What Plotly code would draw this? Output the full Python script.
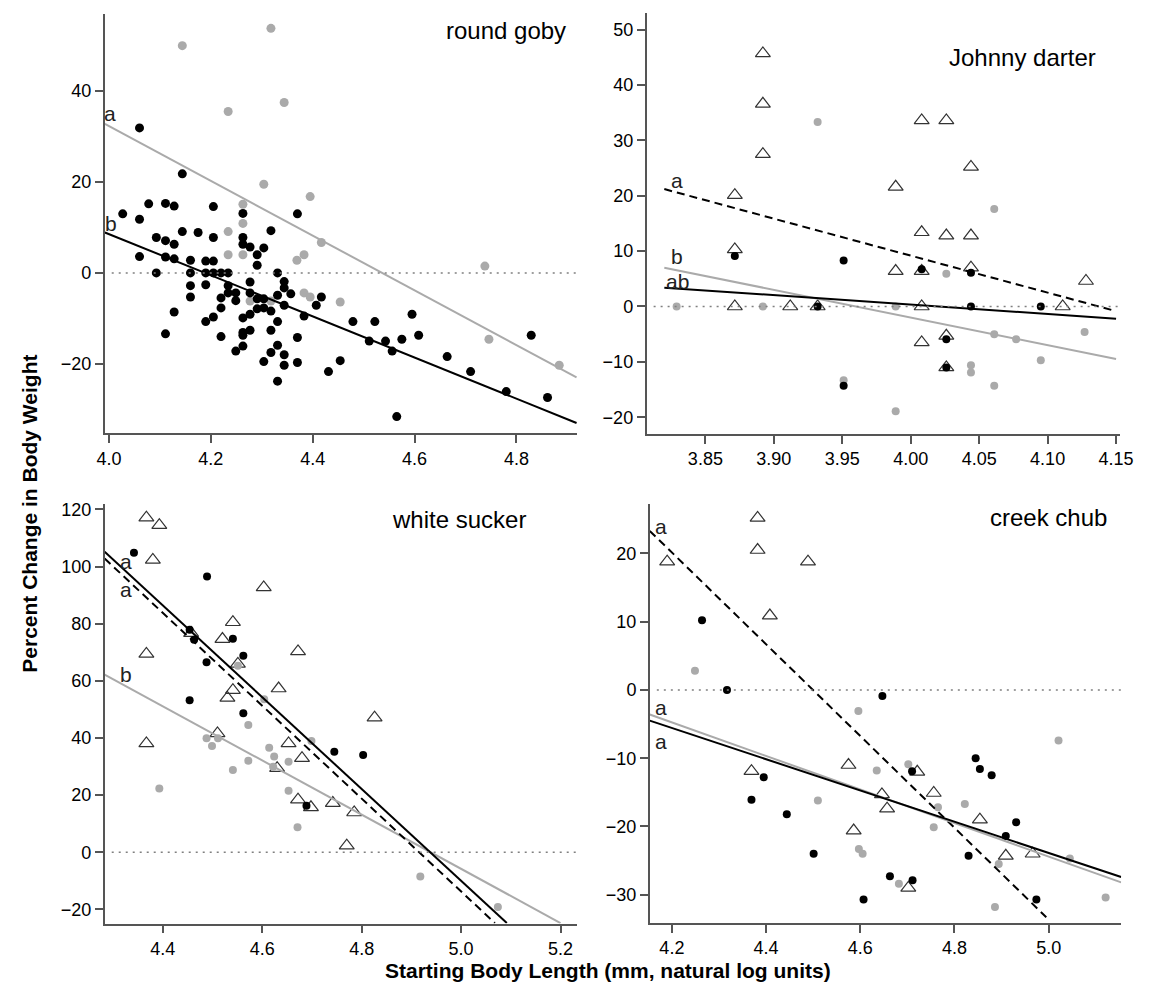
import plotly.graph_objects as go

# page body has an 8px default margin: figure is sized so the whole page is 1151x994
OFF = 8
W, H = 1151 - 2 * OFF, 994 - 2 * OFF

# ---------------- data ----------------
# round goby
gob_grey_x = [4.144, 4.318, 4.234, 4.344, 4.304, 4.395, 4.263, 4.263, 4.234, 4.234, 4.263, 4.369, 4.383,
              4.417, 4.383, 4.395, 4.277, 4.318, 4.454, 4.738, 4.746, 4.884]
gob_grey_y = [50.0, 53.8, 35.5, 37.5, 19.5, 16.8, 15.1, 10.9, 9.1, 4.0, 4.0, 2.8, 4.0,
              6.7, -4.4, -5.3, -6.2, -6.2, -6.4, 1.5, -14.6, -20.3]
gob_black_x = [4.060, 4.144, 4.027, 4.060, 4.078, 4.111, 4.128, 4.205, 4.263, 4.370, 4.318, 4.144, 4.175,
               4.205, 4.093, 4.111, 4.128, 4.263, 4.263, 4.277, 4.304, 4.291, 4.060, 4.111, 4.128, 4.160,
               4.190, 4.205, 4.291, 4.093, 4.160, 4.190, 4.205, 4.220, 4.234, 4.331, 4.277, 4.344, 4.344,
               4.160, 4.190, 4.234, 4.234, 4.249, 4.357, 4.331, 4.160, 4.220, 4.249, 4.277, 4.291, 4.304,
               4.417, 4.407, 4.344, 4.291, 4.304, 4.318, 4.220, 4.128, 4.383, 4.277, 4.263, 4.205, 4.190,
               4.331, 4.479, 4.522, 4.595, 4.277, 4.263, 4.263, 4.318, 4.111, 4.220, 4.370, 4.608, 4.511,
               4.543, 4.575, 4.331, 4.263, 4.249, 4.556, 4.344, 4.318, 4.664, 4.304, 4.370, 4.454, 4.344,
               4.431, 4.710, 4.331, 4.829, 4.780, 4.861, 4.565]
gob_black_y = [31.9, 21.8, 13.0, 11.8, 15.2, 15.3, 14.7, 14.6, 13.1, 13.0, 9.3, 9.1, 8.9,
               7.8, 7.8, 7.1, 6.3, 7.8, 6.3, 5.7, 5.5, 4.0, 3.6, 3.5, 3.1, 2.8,
               2.6, 2.6, 1.7, 0.0, 0.0, 0.0, 0.0, 0.0, 0.0, 0.0, -2.0, -1.9, -3.3,
               -2.8, -2.6, -2.8, -4.4, -4.4, -4.6, -4.9, -5.3, -5.5, -6.1, -4.4, -5.7, -5.7,
               -5.3, -7.1, -7.1, -7.9, -7.7, -8.4, -7.7, -8.6, -9.5, -9.1, -9.9, -9.7, -10.7,
               -10.7, -10.7, -10.7, -9.1, -12.6, -13.1, -13.7, -12.6, -13.4, -14.0, -14.2, -13.7, -15.0,
               -15.0, -14.6, -15.9, -16.1, -17.2, -17.2, -18.0, -17.5, -18.4, -19.5, -19.7, -19.3, -20.3,
               -21.7, -21.7, -23.8, -13.7, -26.1, -27.4, -31.6]
gob_fit_x = [3.992, 4.918]
gob_fit_grey = [32.8, -23.0]
gob_fit_black = [8.9, -33.0]
gob_lab_text = ["a", "b"]
gob_lab_x = [4.003, 4.0045]
gob_lab_y = [35.0, 10.9]

# Johnny darter
jd_tri_x = [3.892, 3.892, 3.892, 3.8715, 3.8715, 3.8715, 3.912, 3.932, 3.989, 3.989, 4.008, 4.008,
            4.008, 4.008, 4.008, 4.026, 4.026, 4.026, 4.026, 4.044, 4.044, 4.044, 4.111, 4.128]
jd_tri_y = [45.7, 36.6, 27.5, 20.1, 10.3, 0.0, 0.0, 0.0, 21.6, 6.4, 33.6, 13.4,
            6.4, 0.0, -6.5, 33.6, 12.8, -5.3, -11.0, 25.2, 12.8, 7.0, 0.0, 4.6]
jd_black_x = [3.8715, 3.951, 3.951, 3.932, 4.008, 4.026, 4.026, 4.044, 4.044, 4.095]
jd_black_y = [9.1, 8.3, -14.3, 0.0, 6.7, -5.9, -11.0, 6.1, 0.0, 0.0]
jd_grey_x = [3.829, 3.892, 3.932, 3.951, 3.989, 3.989, 4.026, 4.061, 4.061, 4.061, 4.044, 4.044,
             4.077, 4.095, 4.127]
jd_grey_y = [0.0, 0.0, 33.3, -13.3, 0.0, -18.9, 5.9, 17.6, -5.0, -14.3, -10.6, -11.9,
             -5.9, -9.7, -4.6]
jd_fit_x = [3.820, 4.150]
jd_fit_dash = [21.2, -0.84]
jd_fit_grey = [7.0, -9.5]
jd_fit_black = [3.4, -2.2]
jd_lab_text = ["a", "b", "ab"]
jd_lab_x = [3.8295, 3.8295, 3.8295]
jd_lab_y = [22.8, 9.0, 4.5]

# white sucker
ws_tri_x = [4.367, 4.393, 4.380, 4.367, 4.367, 4.603, 4.541, 4.520, 4.457, 4.551, 4.541, 4.530,
            4.633, 4.672, 4.510, 4.653, 4.680, 4.630, 4.672, 4.698, 4.742, 4.785, 4.826, 4.770]
ws_tri_y = [117.1, 114.5, 102.3, 69.4, 38.1, 92.7, 80.5, 74.6, 76.7, 65.9, 56.7, 54.0,
            57.3, 70.3, 41.6, 38.1, 32.9, 29.4, 18.4, 15.7, 17.2, 13.9, 47.1, 2.3]
ws_black_x = [4.342, 4.489, 4.454, 4.463, 4.541, 4.562, 4.488, 4.454, 4.562, 4.745, 4.803, 4.689]
ws_black_y = [104.8, 96.5, 77.9, 74.4, 74.7, 68.8, 66.5, 53.2, 48.6, 35.2, 34.0, 16.3]
ws_grey_x = [4.551, 4.604, 4.572, 4.488, 4.499, 4.511, 4.614, 4.624, 4.653, 4.622, 4.572, 4.541,
             4.699, 4.393, 4.653, 4.671, 4.918, 5.074]
ws_grey_y = [65.3, 53.5, 44.5, 39.9, 37.2, 39.9, 36.6, 33.5, 31.7, 29.9, 32.0, 28.8,
             38.9, 22.3, 21.5, 8.7, -8.5, -19.2]
ws_fit_black_x = [4.283, 5.092]
ws_fit_black = [105.2, -24.8]
ws_fit_dash_x = [4.283, 5.068]
ws_fit_dash = [102.8, -24.8]
ws_fit_grey_x = [4.283, 5.200]
ws_fit_grey = [62.2, -24.8]
ws_lab_text = ["a", "a", "b"]
ws_lab_x = [4.3257, 4.3257, 4.327]
ws_lab_y = [101.7, 91.8, 62.2]

# creek chub
cc_tri_x = [4.382, 4.382, 4.190, 4.489, 4.408, 4.369, 4.575, 4.586, 4.646, 4.657, 4.721, 4.756,
            4.702, 4.854, 4.909, 4.966]
cc_tri_y = [25.2, 20.5, 18.8, 18.8, 10.9, -11.9, -11.0, -20.6, -15.3, -17.4, -12.0, -15.1,
            -29.0, -19.0, -24.3, -24.0]
cc_black_x = [4.264, 4.317, 4.647, 4.369, 4.395, 4.444, 4.501, 4.710, 4.711, 4.663, 4.607, 4.845,
              4.854, 4.879, 4.931, 4.909, 4.830, 4.974]
cc_black_y = [10.2, 0.0, -0.9, -16.1, -12.8, -18.2, -24.0, -11.9, -27.9, -27.3, -30.7, -10.0,
              -11.6, -12.5, -19.4, -21.4, -24.3, -30.7]
cc_grey_x = [4.249, 4.596, 4.702, 4.635, 4.510, 4.597, 4.605, 4.765, 4.756, 4.822, 4.682, 4.886,
             4.894, 5.021, 5.045, 5.121]
cc_grey_y = [2.8, -3.1, -10.9, -11.8, -16.2, -23.3, -24.0, -17.2, -20.1, -16.7, -28.4, -31.8,
             -25.5, -7.4, -24.7, -30.4]
cc_fit_dash_x = [4.153, 4.995]
cc_fit_dash = [23.3, -33.3]
cc_fit_x = [4.153, 5.154]
cc_fit_black = [-4.5, -27.4]
cc_fit_grey = [-3.6, -28.2]
cc_lab_text = ["a", "a", "a"]
cc_lab_x = [4.1775, 4.1775, 4.1775]
cc_lab_y = [23.9, -2.53, -7.49]

panel_titles = ["round goby", "Johnny darter", "white sucker", "creek chub"]
x_title = "Starting Body Length (mm, natural log units)"
y_title = "Percent Change in Body Weight"

# ---------------- styling ----------------
FONT = "Liberation Sans, Arial, sans-serif"
GREY = "#aaaaaa"
BLACK = "#000000"
AXC = "#555555"
DASH = "8px,5px"

fig = go.Figure()


def px_x(p):
    return (p - OFF) / W


def px_y(p):
    return 1 - (p - OFF) / H


def dots(x, y, color, size, ax):
    fig.add_trace(go.Scatter(x=x, y=y, mode="markers", xaxis=ax[0], yaxis=ax[1],
                             marker=dict(color=color, size=size, line=dict(width=0)),
                             showlegend=False, hoverinfo="skip"))


def tris(x, y, ax):
    fig.add_trace(go.Scatter(x=x, y=y, mode="markers", xaxis=ax[0], yaxis=ax[1],
                             marker=dict(symbol="triangle-up-open", color="#333333", size=13,
                                         line=dict(width=1.2, color="#333333")),
                             showlegend=False, hoverinfo="skip"))


def fit(x, y, color, dash, ax, width=2):
    fig.add_trace(go.Scatter(x=x, y=y, mode="lines", xaxis=ax[0], yaxis=ax[1],
                             line=dict(color=color, width=width, dash=dash),
                             showlegend=False, hoverinfo="skip"))


A1, A2, A3, A4 = ("x", "y"), ("x2", "y2"), ("x3", "y3"), ("x4", "y4")

# panel 1
dots(gob_grey_x, gob_grey_y, GREY, 9, A1)
dots(gob_black_x, gob_black_y, BLACK, 9, A1)
fit(gob_fit_x, gob_fit_grey, GREY, "solid", A1)
fit(gob_fit_x, gob_fit_black, BLACK, "solid", A1)
# panel 2
dots(jd_grey_x, jd_grey_y, GREY, 8, A2)
tris(jd_tri_x, jd_tri_y, A2)
dots(jd_black_x, jd_black_y, BLACK, 8, A2)
fit(jd_fit_x, jd_fit_dash, BLACK, DASH, A2)
fit(jd_fit_x, jd_fit_grey, GREY, "solid", A2)
fit(jd_fit_x, jd_fit_black, BLACK, "solid", A2)
# panel 3
tris(ws_tri_x, ws_tri_y, A3)
dots(ws_grey_x, ws_grey_y, GREY, 8, A3)
dots(ws_black_x, ws_black_y, BLACK, 8, A3)
fit(ws_fit_grey_x, ws_fit_grey, GREY, "solid", A3)
fit(ws_fit_dash_x, ws_fit_dash, BLACK, DASH, A3)
fit(ws_fit_black_x, ws_fit_black, BLACK, "solid", A3)
# panel 4
tris(cc_tri_x, cc_tri_y, A4)
dots(cc_grey_x, cc_grey_y, GREY, 8, A4)
dots(cc_black_x, cc_black_y, BLACK, 8, A4)
fit(cc_fit_dash_x, cc_fit_dash, BLACK, DASH, A4)
fit(cc_fit_x, cc_fit_grey, GREY, "solid", A4)
fit(cc_fit_x, cc_fit_black, BLACK, "solid", A4)

axis_common = dict(showline=True, linecolor=AXC, linewidth=1.5, ticks="outside", ticklen=8,
                   tickcolor=AXC, tickwidth=1.5, showgrid=False, zeroline=False,
                   ticklabeloverflow="allow",
                   tickfont=dict(family=FONT, size=18, color="#000"), fixedrange=True)

panels = [
    # x domain px, y domain px, xrange, yrange, xticks, yticks, fmt
    ((98.3, 580.0), (10.0, 431.0), (3.9915, 4.9197), (-35.27, 56.96),
     [4.0, 4.2, 4.4, 4.6, 4.8], [-20, 0, 20, 40], ".1f"),
    ((650.4, 1133.0), (9.3, 431.7), (3.807, 4.153), (-23.02, 52.94),
     [3.85, 3.90, 3.95, 4.00, 4.05, 4.10, 4.15], [-20, -10, 0, 10, 20, 30, 40, 50], ".2f"),
    ((98.3, 580.0), (501.7, 923.3), (4.283, 5.234), (-24.98, 122.0),
     [4.4, 4.6, 4.8, 5.0, 5.2], [-20, 0, 20, 40, 60, 80, 100, 120], ".1f"),
    ((653.7, 1134.0), (501.7, 922.7), (4.153, 5.154), (-34.14, 27.29),
     [4.2, 4.4, 4.6, 4.8, 5.0], [-30, -20, -10, 0, 10, 20], ".1f"),
]

lay = {}
for i, (xd, yd, xr, yr, xt, yt, fmt) in enumerate(panels):
    sx = "xaxis" if i == 0 else f"xaxis{i+1}"
    sy = "yaxis" if i == 0 else f"yaxis{i+1}"
    yname = "y" if i == 0 else f"y{i+1}"
    xname = "x" if i == 0 else f"x{i+1}"
    lay[sx] = dict(axis_common, domain=[px_x(xd[0]), px_x(xd[1])], range=list(xr),
                   tickvals=xt, tickformat=fmt, anchor=yname)
    lay[sy] = dict(axis_common, domain=[px_y(yd[1]), px_y(yd[0])], range=list(yr),
                   tickvals=yt, anchor=xname)

shapes = []
for i in range(4):
    xname = "x" if i == 0 else f"x{i+1}"
    yname = "y" if i == 0 else f"y{i+1}"
    shapes.append(dict(type="line", xref=f"{xname} domain", yref=yname, x0=0.015, x1=1.0,
                       y0=0, y1=0, line=dict(color="#808080", width=1.6, dash="2px,5px")))

annotations = []
lab_sets = [(gob_lab_text, gob_lab_x, gob_lab_y, "x", "y"),
            (jd_lab_text, jd_lab_x, jd_lab_y, "x2", "y2"),
            (ws_lab_text, ws_lab_x, ws_lab_y, "x3", "y3"),
            (cc_lab_text, cc_lab_x, cc_lab_y, "x4", "y4")]
for texts, xs, ys, xr, yr in lab_sets:
    for t, xv, yv in zip(texts, xs, ys):
        annotations.append(dict(text=t, x=xv, y=yv, xref=xr, yref=yr, showarrow=False,
                                xanchor="center", yanchor="middle", borderpad=0,
                                font=dict(family=FONT, size=21, color="#222")))

title_pos = [(570, 27), (1110.4, 53.3), (529.3, 517.7), (1121.5, 516)]
for t, (xp, yp) in zip(panel_titles, title_pos):
    annotations.append(dict(text=t, x=px_x(xp), y=px_y(yp), xref="paper", yref="paper",
                            showarrow=False, xanchor="right", yanchor="middle",
                            font=dict(family=FONT, size=24, color="#000")))

annotations.append(dict(text=f"<b>{x_title}</b>", x=px_x(611), y=px_y(970), xref="paper",
                        yref="paper", showarrow=False, xanchor="center", yanchor="middle",
                        font=dict(family=FONT, size=21, color="#000")))
annotations.append(dict(text=f"<b>{y_title}</b>", x=px_x(22), y=px_y(512), xref="paper",
                        yref="paper", showarrow=False, xanchor="center", yanchor="middle",
                        textangle=-90, font=dict(family=FONT, size=21, color="#000")))

fig.update_layout(width=W, height=H, margin=dict(l=0, r=0, t=0, b=0),
                  paper_bgcolor="white", plot_bgcolor="white",
                  shapes=shapes, annotations=annotations, **lay)

fig.write_html("out.html", config={"displayModeBar": False})
